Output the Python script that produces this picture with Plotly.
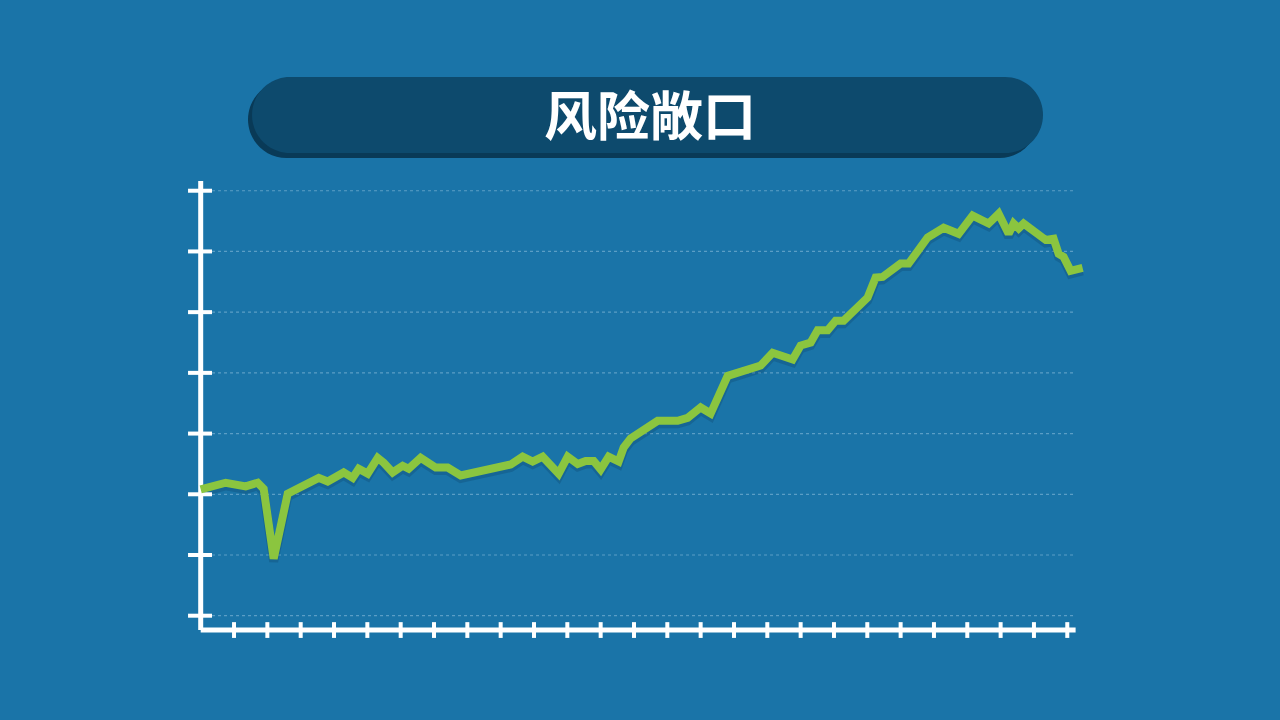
import plotly.graph_objects as go

# ---- data ----
title_text = "风险敞口"
x_vals = [0.0, 0.75, 1.35, 1.71, 1.89, 2.19, 2.61, 3.09, 3.54, 3.81, 4.29, 4.56, 4.74,
          5.01, 5.31, 5.49, 5.76, 6.06, 6.24, 6.60, 7.05, 7.41, 7.80, 9.30, 9.66, 9.96, 10.26,
          10.74, 11.01, 11.31, 11.55, 11.79, 12.00, 12.24, 12.54, 12.69, 12.90, 13.71, 14.31,
          14.61, 15.00, 15.30, 15.81, 16.80, 17.16, 17.76, 18.00, 18.30, 18.51, 18.81, 19.05,
          19.29, 20.01, 20.25, 20.46, 21.00, 21.24, 21.81, 22.29, 22.74, 23.16, 23.64, 23.94,
          24.24, 24.39, 24.54, 24.69, 25.35, 25.59, 25.74, 25.89, 26.10, 26.46]
y_vals = [2.08, 2.19, 2.13, 2.19, 2.09, 0.94, 2.01, 2.14, 2.27, 2.21, 2.36, 2.27, 2.42,
          2.34, 2.60, 2.52, 2.36, 2.47, 2.42, 2.60, 2.44, 2.44, 2.31, 2.49, 2.62, 2.54, 2.62,
          2.34, 2.62, 2.50, 2.55, 2.55, 2.41, 2.62, 2.54, 2.77, 2.92, 3.21, 3.21,
          3.26, 3.43, 3.33, 3.95, 4.12, 4.33, 4.22, 4.45, 4.50, 4.70, 4.70, 4.86,
          4.86, 5.24, 5.57, 5.58, 5.80, 5.80, 6.23, 6.39, 6.29, 6.59, 6.46, 6.62,
          6.29, 6.46, 6.38, 6.46, 6.19, 6.21, 5.96, 5.91, 5.68, 5.73]
y_ticks = list(range(8))
x_ticks = list(range(1, 27))

# ---- styling ----
BG = "#1a74a8"
WHITE = "#ffffff"
GREEN = "#8bc53f"
GRID = "rgba(170,210,235,0.45)"

X_AXIS_Y = -0.236
Y_AXIS_TOP = 7.16
X_AXIS_END = 26.25
GRID_X0, GRID_X1 = 0.34, 26.23

fig = go.Figure()

# gridlines
gx, gy = [], []
for t in y_ticks:
    gx += [GRID_X0, GRID_X1, None]
    gy += [t, t, None]
fig.add_trace(go.Scatter(x=gx, y=gy, mode="lines",
                         line=dict(color=GRID, width=1.2, dash="dot"),
                         hoverinfo="skip", showlegend=False))

# line shadow
fig.add_trace(go.Scatter(x=x_vals, y=[v - 0.05 for v in y_vals], mode="lines",
                         line=dict(color="rgba(10,50,80,0.22)", width=9),
                         hoverinfo="skip", showlegend=False))

# axes
fig.add_trace(go.Scatter(x=[0, 0], y=[Y_AXIS_TOP, X_AXIS_Y], mode="lines",
                         line=dict(color=WHITE, width=5), hoverinfo="skip", showlegend=False))
fig.add_trace(go.Scatter(x=[0, X_AXIS_END], y=[X_AXIS_Y, X_AXIS_Y], mode="lines",
                         line=dict(color=WHITE, width=5), hoverinfo="skip", showlegend=False))

# y ticks
tx, ty = [], []
for t in y_ticks:
    tx += [-0.38, 0.34, None]
    ty += [t, t, None]
fig.add_trace(go.Scatter(x=tx, y=ty, mode="lines", line=dict(color=WHITE, width=4),
                         hoverinfo="skip", showlegend=False))
# x ticks
tx, ty = [], []
for t in x_ticks:
    tx += [t, t, None]
    ty += [X_AXIS_Y - 0.13, X_AXIS_Y + 0.13, None]
fig.add_trace(go.Scatter(x=tx, y=ty, mode="lines", line=dict(color=WHITE, width=4),
                         hoverinfo="skip", showlegend=False))

# data line
fig.add_trace(go.Scatter(x=x_vals, y=y_vals, mode="lines",
                         line=dict(color=GREEN, width=8, shape="linear"),
                         showlegend=False))

# title pill (paper coords == full figure since margins are 0)
W, H = 1280, 720


def pill_path(x0, y0, x1, y1):
    r = (y1 - y0) / 2
    k = 0.5523 * r

    def P(px, py):
        return f"{px / W:.5f},{1 - py / H:.5f}"
    path = f"M {P(x0 + r, y0)} L {P(x1 - r, y0)} "
    path += f"C {P(x1 - r + k, y0)} {P(x1, y0 + r - k)} {P(x1, y0 + r)} "
    path += f"C {P(x1, y0 + r + k)} {P(x1 - r + k, y1)} {P(x1 - r, y1)} "
    path += f"L {P(x0 + r, y1)} "
    path += f"C {P(x0 + r - k, y1)} {P(x0, y0 + r + k)} {P(x0, y0 + r)} "
    path += f"C {P(x0, y0 + r - k)} {P(x0 + r - k, y0)} {P(x0 + r, y0)} Z"
    return path


shapes = [
    dict(type="path", xref="paper", yref="paper", path=pill_path(248, 81, 1038, 158),
         fillcolor="#093a57", line=dict(width=0), layer="below"),
    dict(type="path", xref="paper", yref="paper", path=pill_path(252, 77, 1043, 153),
         fillcolor="#0d4a6d", line=dict(width=0), layer="below"),
]

fig.update_layout(
    width=W, height=H,
    margin=dict(l=0, r=0, t=0, b=0),
    paper_bgcolor=BG, plot_bgcolor=BG,
    xaxis=dict(range=[-200.7 / 33.33, (W - 200.7) / 33.33], visible=False, fixedrange=True),
    yaxis=dict(range=[-104.3 / 60.71, (H - 104.3) / 60.71], visible=False, fixedrange=True),
    shapes=shapes,
    annotations=[dict(text=f"<b>{title_text}</b>", x=650 / W, y=1 - 113 / H,
                      xref="paper", yref="paper", showarrow=False,
                      xanchor="center", yanchor="middle",
                      font=dict(family="Noto Sans CJK SC", size=53, color=WHITE))],
    showlegend=False,
)

fig.write_html("out.html", config={"displayModeBar": False},
               post_script="document.body.style.margin='0';document.body.style.overflow='hidden';")
